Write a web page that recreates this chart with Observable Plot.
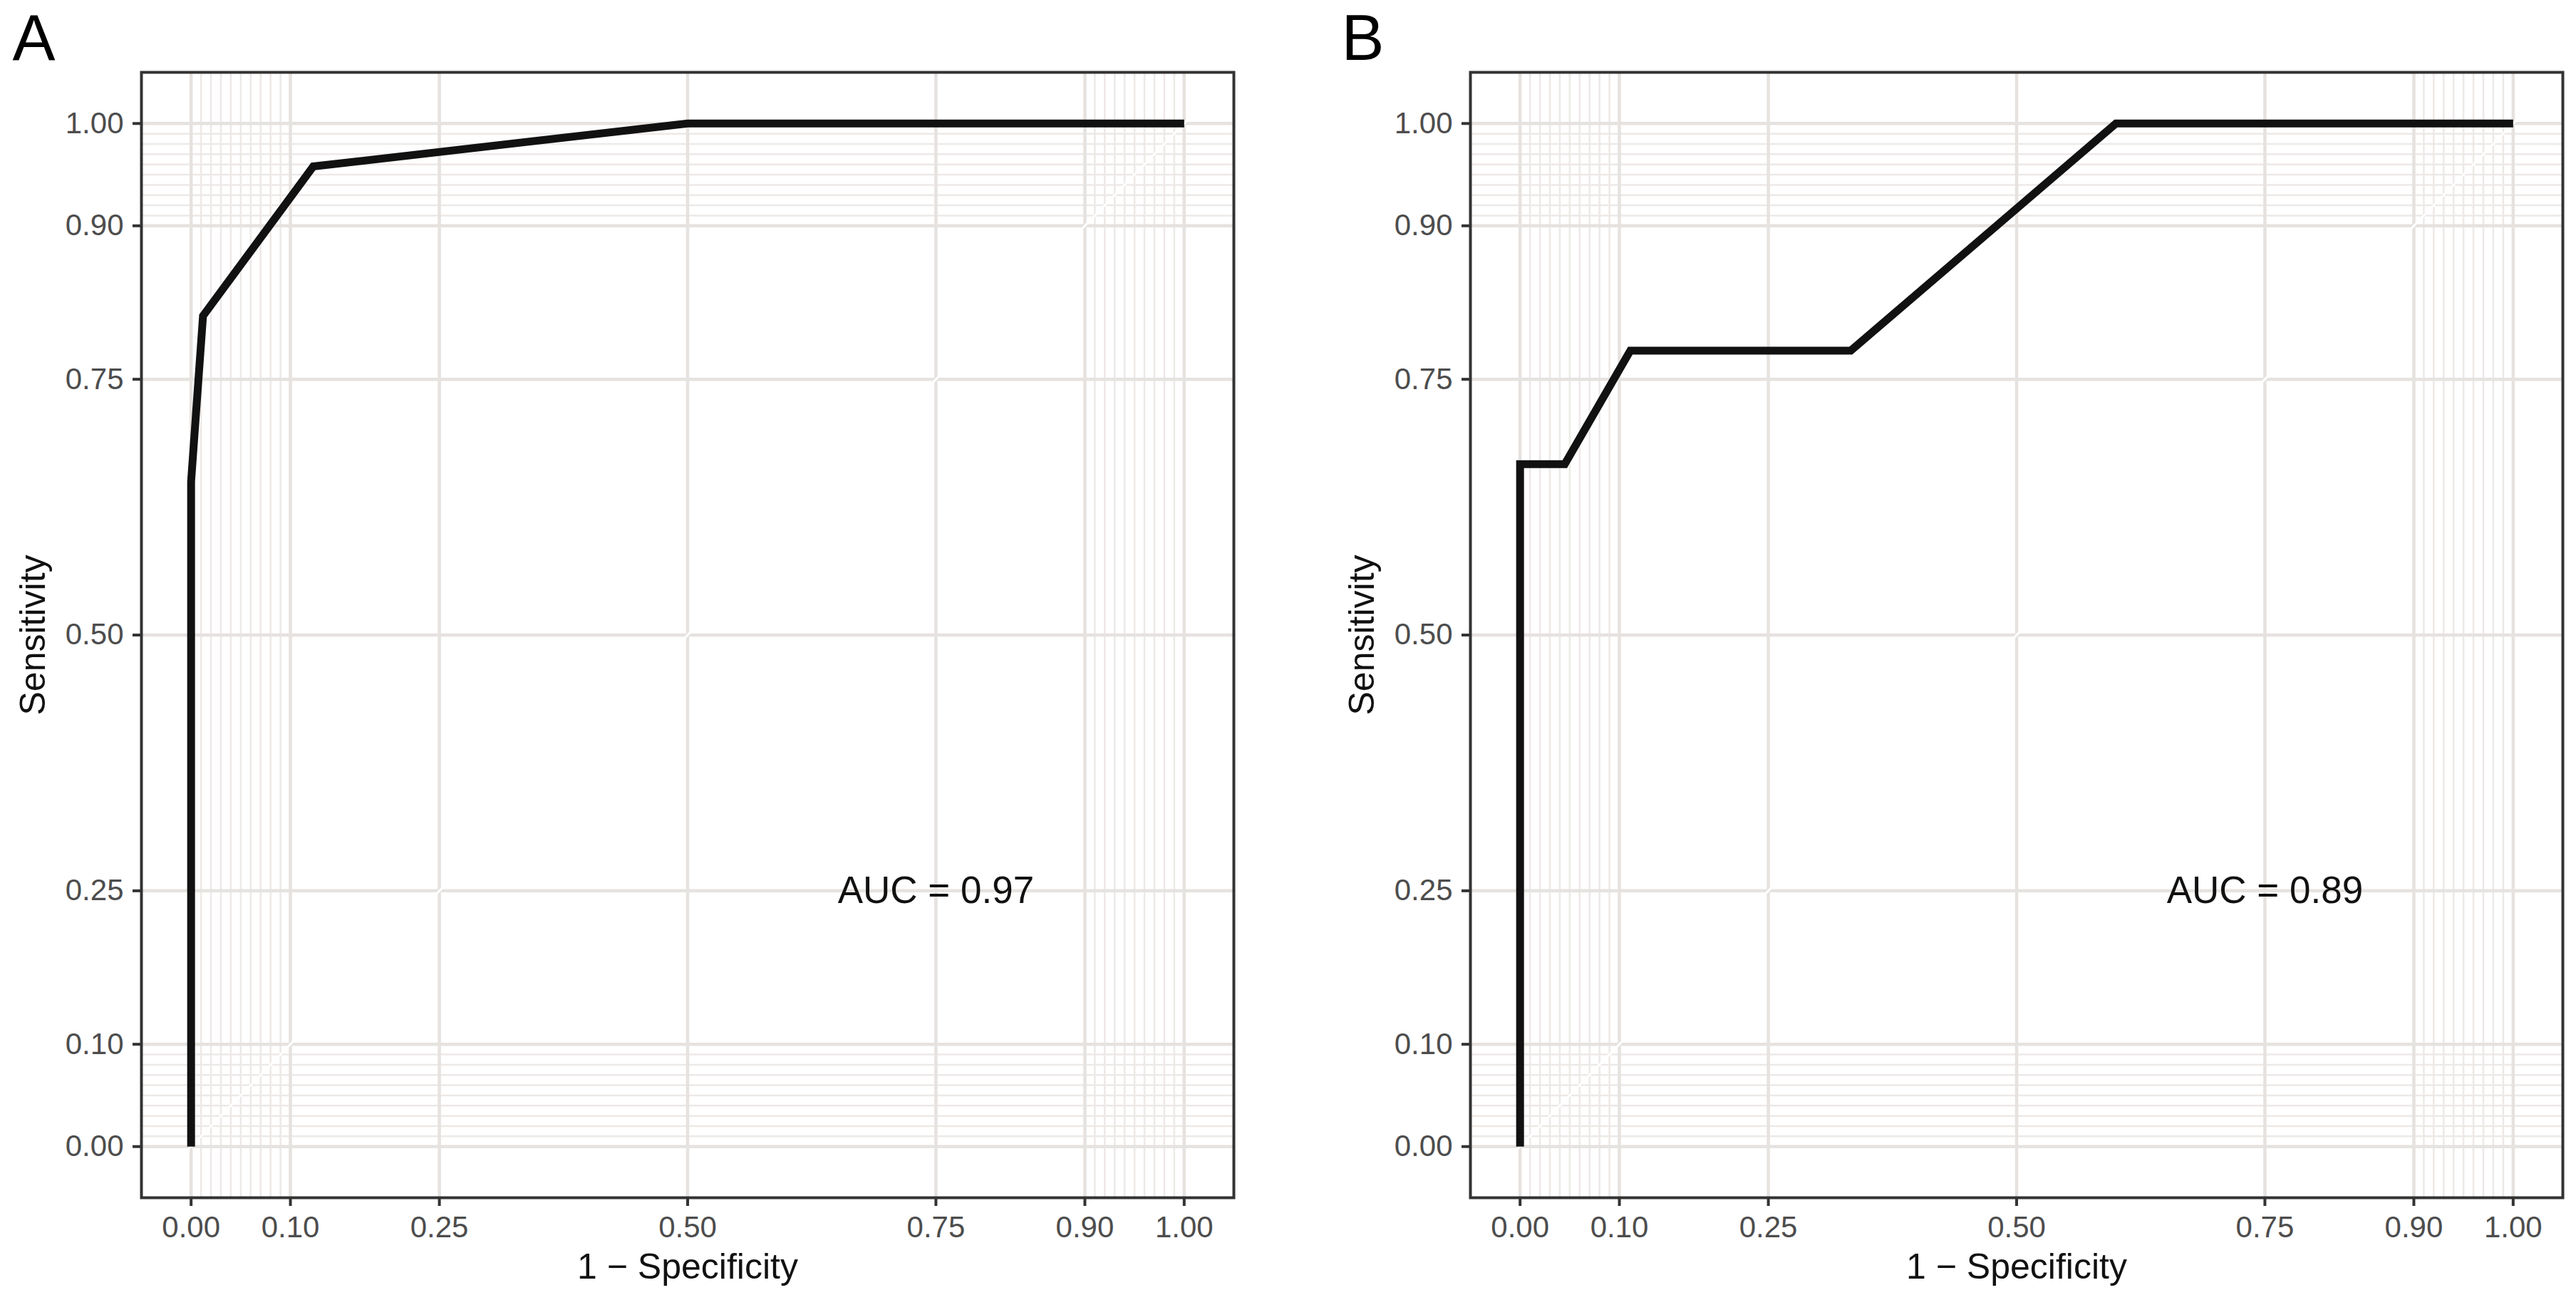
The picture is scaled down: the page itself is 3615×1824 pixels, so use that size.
<!DOCTYPE html>
<html>
<head>
<meta charset="utf-8">
<script src="https://cdn.jsdelivr.net/npm/d3@7"></script>
<script src="https://cdn.jsdelivr.net/npm/@observablehq/plot@0.6"></script>
<style>
  html, body { margin: 0; padding: 0; background: #ffffff; }
  #wrap { display: flex; flex-direction: row; width: 3615px; height: 1824px; }
  #wrap svg { display: block; }
</style>
</head>
<body>
<div id="wrap"></div>
<script>
// ---- data ----
const majorBreaks = [0, 0.1, 0.25, 0.5, 0.75, 0.9, 1];
const minorBreaks = [0.01, 0.02, 0.03, 0.04, 0.05, 0.06, 0.07, 0.08, 0.09,
                     0.91, 0.92, 0.93, 0.94, 0.95, 0.96, 0.97, 0.98, 0.99];

const fprA = [0, 0, 0.012, 0.123, 0.5, 1];
const tprA = [0, 0.65, 0.812, 0.958, 1, 1];

const fprB = [0, 0, 0.045, 0.111, 0.333, 0.6, 1];
const tprB = [0, 0.667, 0.667, 0.778, 0.778, 1, 1];

const panelLabels = ["A", "B"];
const aucLabels = ["AUC = 0.97", "AUC = 0.89"];
const aucPos = [0.75, 0.25];
const xTitle = "1 \u2212 Specificity";
const yTitle = "Sensitivity";

const FONT = "'Liberation Sans', Arial, Helvetica, sans-serif";
const GRID_MAJOR = "#E6E2DF";
const GRID_MINOR = "#EDE9E7";
const INK = "#333333";
const TICK_TEXT = "#4D4D4D";

function rocPanel(fpr, tpr, label, auc, width, marginRight) {
  const pts = fpr.map((x, i) => ({x, y: tpr[i]}));
  return Plot.plot({
    width,
    height: 1824,
    marginLeft: 198,
    marginRight,
    marginTop: 101,
    marginBottom: 144,
    x: {domain: [-0.05, 1.05]},
    y: {domain: [-0.05, 1.05]},
    style: {fontFamily: FONT, background: "white", overflow: "visible"},
    marks: [
      // grid
      Plot.ruleX(minorBreaks, {stroke: GRID_MINOR, strokeWidth: 2.5}),
      Plot.ruleY(minorBreaks, {stroke: GRID_MINOR, strokeWidth: 2.5}),
      Plot.ruleX(majorBreaks, {stroke: GRID_MAJOR, strokeWidth: 4.5}),
      Plot.ruleY(majorBreaks, {stroke: GRID_MAJOR, strokeWidth: 4.5}),
      // white guide diagonal
      Plot.line([{x: -0.05, y: -0.05}, {x: 1.05, y: 1.05}], {x: "x", y: "y", stroke: "white", strokeWidth: 3}),
      // ROC curve
      Plot.line(pts, {x: "x", y: "y", stroke: "#111111", strokeWidth: 11,
                      strokeLinejoin: "miter", strokeLinecap: "butt", strokeMiterlimit: 10}),
      // AUC text
      Plot.text([auc], {x: () => aucPos[0], y: () => aucPos[1], text: d => d,
                        fontSize: 53, fill: "#111111", textAnchor: "middle", lineAnchor: "middle"}),
      // axes
      Plot.axisX(majorBreaks, {anchor: "bottom", tickSize: 12, tickPadding: 14, strokeWidth: 4,
                               stroke: INK, fill: TICK_TEXT, fontSize: 42, label: null,
                               tickFormat: d3.format(".2f")}),
      Plot.axisY(majorBreaks, {anchor: "left", tickSize: 12, tickPadding: 13, strokeWidth: 4,
                               stroke: INK, fill: TICK_TEXT, fontSize: 42, label: null,
                               tickFormat: d3.format(".2f")}),
      // axis titles
      Plot.text([xTitle], {frameAnchor: "bottom", dy: 113, text: d => d, fontSize: 50,
                           fill: "#111111", textAnchor: "middle", lineAnchor: "bottom"}),
      Plot.text([yTitle], {frameAnchor: "left", dx: -136, text: d => d, fontSize: 50,
                           fill: "#111111", textAnchor: "middle", lineAnchor: "bottom", rotate: -90}),
      // panel tag
      Plot.text([label], {frameAnchor: "top-left", dx: -181, dy: -18, text: d => d, fontSize: 90,
                          fill: "#000000", textAnchor: "start", lineAnchor: "bottom"}),
      // panel border
      Plot.frame({stroke: INK, strokeWidth: 4})
    ]
  });
}

const wrap = document.getElementById("wrap");
wrap.appendChild(rocPanel(fprA, tprA, panelLabels[0], aucLabels[0], 1865, 134));
wrap.appendChild(rocPanel(fprB, tprB, panelLabels[1], aucLabels[1], 1750, 19));
</script>
</body>
</html>
